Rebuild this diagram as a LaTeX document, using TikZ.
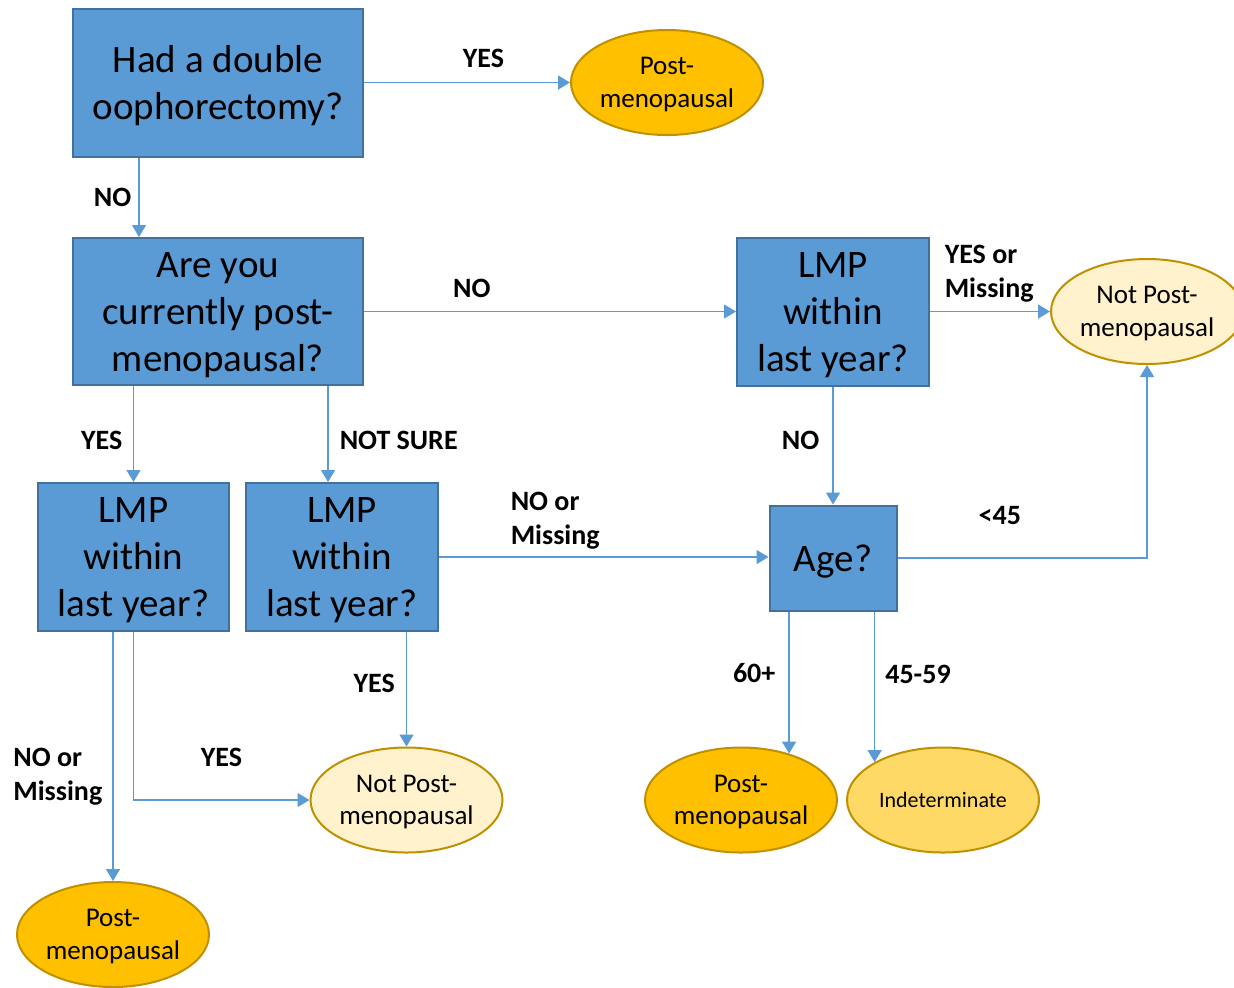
\documentclass[tikz,border=0pt]{standalone}
\usepackage{fontspec}
\setmainfont{Carlito}
\usetikzlibrary{positioning,shapes.geometric,arrows.meta}
\definecolor{boxblue}{HTML}{5B9BD5}
\definecolor{boxedge}{HTML}{41719C}
\definecolor{postfill}{HTML}{FFC000}
\definecolor{notfill}{HTML}{FFF2CC}
\definecolor{indetfill}{HTML}{FFD966}
\definecolor{ovaledge}{HTML}{BF9000}

\begin{document}
\begin{tikzpicture}[
    question/.style={
        rectangle,
        draw=boxedge,
        fill=boxblue,
        line width=1pt,
        minimum width=145pt,
        minimum height=74pt,
        inner sep=0pt,
        text depth=0pt,
        align=center,
        font=\fontsize{19.5}{23.5}\selectfont
    },
    outcome/.style={
        ellipse,
        draw=ovaledge,
        fill=postfill,
        line width=1pt,
        minimum width=96pt,
        minimum height=52.5pt,
        inner sep=0pt,
        text depth=0pt,
        align=center,
        font=\fontsize{13.5}{16.3}\selectfont
    },
    arrow/.style={
        -{Triangle[length=6pt,width=7pt]},
        boxblue,
        line width=0.75pt
    },
    answer/.style={
        font=\fontsize{14}{17}\selectfont\bfseries,
        text=black,
        inner sep=0pt,
        align=left
    }
]
\useasboundingbox (0,0) rectangle (617pt,-493.5pt);

% Domande (rettangoli)
\node[question] (double) at (109pt,-41.25pt) {Had a double\\oophorectomy?};
\node[question, below of=double, node distance=114.5pt, minimum height=73.5pt] (current) {Are you\\currently post-\\menopausal?};
\node[question, right of=current, node distance=307.5pt, minimum width=96pt] (lmpR) {LMP\\within\\last year?};
\node[question, below of=current, node distance=122.75pt, xshift=-42.25pt, minimum width=95.5pt] (lmpL) {LMP\\within\\last year?};
\node[question, right of=lmpL, node distance=104.25pt, minimum width=96pt] (lmpM) {LMP\\within\\last year?};
\node[question, below of=lmpR, node distance=123.25pt, minimum width=63.5pt, minimum height=52.5pt] (age) {Age?};

% Esiti (ellissi)
\node[outcome, right of=double, node distance=224.5pt] (post1) {Post-\\menopausal};
\node[outcome, right of=lmpR, node distance=157pt, fill=notfill] (notpost1) {Not Post-\\menopausal};
\node[outcome, below of=lmpM, node distance=121.5pt, xshift=32.25pt, fill=notfill] (notpost2) {Not Post-\\menopausal};
\node[outcome, below of=age, node distance=121pt, xshift=-46pt] (post2) {Post-\\menopausal};
\node[outcome, right of=post2, node distance=101pt, fill=indetfill, font=\fontsize{11}{13}\selectfont] (indet) {Indeterminate};
\node[outcome, below of=lmpL, node distance=188.75pt, xshift=-10.25pt] (post3) {Post-\\menopausal};

% Collegamenti in alto
\draw[arrow] (double) -- (post1) node[answer, pos=0.58, above=7.25pt] (a1) {YES};
\draw[arrow] ([xshift=-39.5pt]double.south) -- ([xshift=-39.5pt]current.north) node[answer, midway, left=3.5pt] (a2) {NO};
\draw[arrow] (current.east) -- (current.east -| lmpR.west) node[answer, pos=0.29, above=6.5pt] (a3) {NO};
\draw[arrow] (lmpR) -- (notpost1) node[answer, at start, anchor=south west, xshift=7pt, yshift=4.5pt] (a4) {YES or\\Missing};
\draw[arrow] (lmpR) -- (age) node[answer, midway, left=6.5pt, yshift=2.5pt] (a5) {NO};

% Collegamenti al centro
\draw[arrow] (current.south -| lmpL.north) -- (lmpL.north) node[answer, midway, left=5.25pt, yshift=-3pt] (a6) {YES};
\draw[arrow] ([xshift=-7pt]lmpM.north |- current.south) -- ([xshift=-7pt]lmpM.north) node[answer, midway, right=5.5pt, yshift=-3pt] (a7) {NOT SURE};
\draw[arrow] (lmpM.east) -- (lmpM.east -| age.west) node[answer, at start, anchor=south west, xshift=35.5pt, yshift=3.5pt] (a8) {NO or\\Missing};
\draw[arrow] (age.east) -| (notpost1.south) node[answer, pos=0.205, above=16.25pt] (a9) {<45};

% Collegamenti in basso
\draw[arrow] (post2.44 |- age.south) -- (post2.44) node[answer, midway, left=6.5pt, yshift=4.5pt] (a10) {60+};
\draw[arrow] (indet.151 |- age.south) -- (indet.151) node[answer, midway, right=5pt, yshift=6pt] (a11) {45-59};
\draw[arrow] (lmpM.south -| notpost2.north) -- (notpost2.north) node[answer, midway, left=5.5pt, yshift=2.75pt] (a12) {YES};
\draw[arrow] (lmpL.south) |- (notpost2.west) node[answer, pos=0.75, above=16.25pt] (a13) {YES};
\draw[arrow] (lmpL.south -| post3.north) -- (post3.north) node[answer, midway, left=5pt, yshift=-10pt] (a14) {NO or\\Missing};

\end{tikzpicture}
\end{document}
